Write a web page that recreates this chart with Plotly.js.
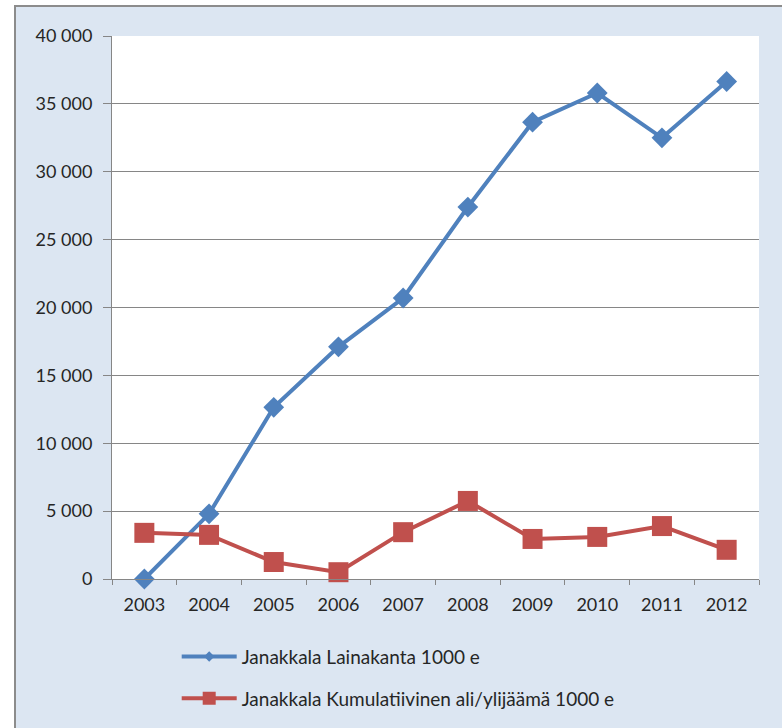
<!DOCTYPE html>
<html>
<head>
<meta charset="utf-8">
<script src="https://cdn.plot.ly/plotly-3.0.1.min.js"></script>
<style>
  html, body { margin:0; padding:0; background:#ffffff; overflow:hidden; }
  #frame { position:absolute; left:14px; top:5px; width:800px; height:800px; border:2px solid #8c8c8c; background:#dce6f2; }
  #chart { position:absolute; left:0; top:0; width:782px; height:728px; }
</style>
</head>
<body>
<div id="frame"></div>
<div id="chart"></div>
<script>
const years = ["2003","2004","2005","2006","2007","2008","2009","2010","2011","2012"];
const lainakanta = [0, 4800, 12650, 17100, 20700, 27400, 33650, 35800, 32500, 36650];
const kumulatiivinen = [3400, 3250, 1250, 500, 3450, 5750, 2950, 3100, 3900, 2150];
const yTicks = [0, 5000, 10000, 15000, 20000, 25000, 30000, 35000, 40000];
const seriesNames = ["Janakkala Lainakanta 1000 e", "Janakkala Kumulatiivinen ali/ylijäämä 1000 e"];

const tickFont = {family: "Lato, 'Open Sans', sans-serif", size: 18, color: "#262626"};
const legFont = {family: "Lato, 'Open Sans', sans-serif", size: 19, color: "#262626"};
const blue = "#4f81bd", red = "#c0504d";

const traces = [
  {x: years, y: lainakanta, name: seriesNames[0], type: "scatter", mode: "lines+markers",
   showlegend: false, cliponaxis: false,
   line: {color: blue, width: 4}, marker: {symbol: "diamond", size: 16, color: blue}},
  {x: years, y: kumulatiivinen, name: seriesNames[1], type: "scatter", mode: "lines+markers",
   showlegend: false, cliponaxis: false,
   line: {color: red, width: 4}, marker: {symbol: "square", size: 20, color: red}},
  // legend entries (smaller legend markers as in the reference)
  {x: [null], y: [null], name: seriesNames[0], type: "scatter", mode: "lines+markers",
   legendgroup: "a", line: {color: blue, width: 4}, marker: {symbol: "diamond", size: 8, color: blue}},
  {x: [null], y: [null], name: seriesNames[1], type: "scatter", mode: "lines+markers",
   legendgroup: "b", line: {color: red, width: 4}, marker: {symbol: "square", size: 13, color: red}}
];

const layout = {
  width: 782, height: 728,
  paper_bgcolor: "rgba(0,0,0,0)", plot_bgcolor: "#ffffff",
  margin: {l: 112, r: 23, t: 36, b: 149, autoexpand: false},
  separators: ", ",
  font: tickFont,
  showlegend: true,
  legend: {x: 0.1, xanchor: "left", y: -0.108, yanchor: "top", orientation: "v",
           itemwidth: 55, traceorder: "grouped", tracegroupgap: 14,
           bgcolor: "rgba(0,0,0,0)", font: legFont},
  xaxis: {type: "category", range: [-0.5, 9.5], tickson: "boundaries", ticks: "outside", ticklen: 5,
          tickcolor: "#868686", showline: true, linecolor: "#868686", linewidth: 1,
          showgrid: false, zeroline: false, tickfont: tickFont, ticklabelstandoff: 9, fixedrange: true},
  yaxis: {range: [0, 40000], tickvals: yTicks, tickformat: ",d", ticks: "outside", ticklen: 8,
          tickcolor: "#868686", showline: true, linecolor: "#868686", linewidth: 1,
          showgrid: true, gridcolor: "#868686", gridwidth: 1, zeroline: false,
          tickfont: tickFont, ticklabelstandoff: 7, fixedrange: true}
};

Plotly.newPlot("chart", traces, layout, {displayModeBar: false, staticPlot: true});
</script>
</body>
</html>
